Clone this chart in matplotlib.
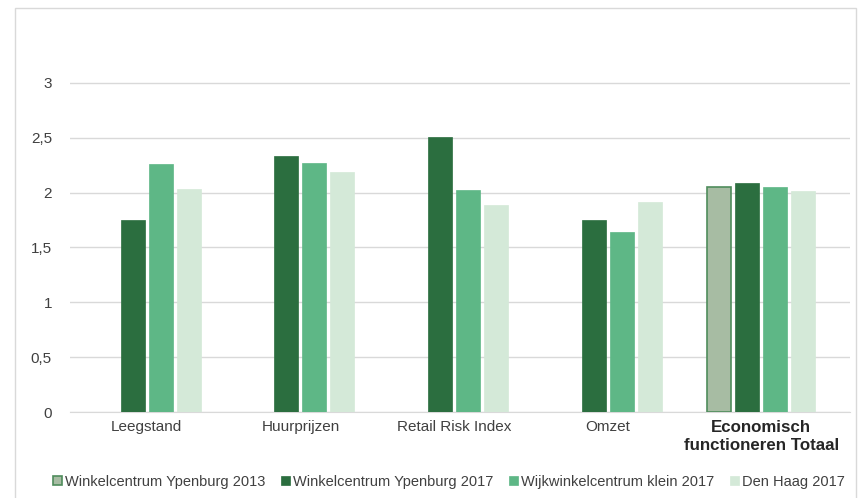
import numpy as np
import matplotlib.pyplot as plt
from matplotlib.patches import Rectangle

plt.rcParams['font.family'] = ['Liberation Sans', 'DejaVu Sans']

categories = ['Leegstand', 'Huurprijzen', 'Retail Risk Index', 'Omzet', 'Economisch\nfunctioneren Totaal']
series = ['Winkelcentrum Ypenburg 2013', 'Winkelcentrum Ypenburg 2017',
          'Wijkwinkelcentrum klein 2017', 'Den Haag 2017']
ypenburg_2013 = [np.nan, np.nan, np.nan, np.nan, 2.05]
ypenburg_2017 = [1.75, 2.33, 2.51, 1.75, 2.09]
klein_2017 = [2.26, 2.27, 2.02, 1.64, 2.05]
den_haag_2017 = [2.03, 2.19, 1.89, 1.91, 2.01]

values = [ypenburg_2013, ypenburg_2017, klein_2017, den_haag_2017]
fills = ['#a7bca3', '#2b6e3f', '#5eb786', '#d4e9d8']
edges = ['#4f8c5c', '#2b6e3f', '#5eb786', '#d4e9d8']

fig = plt.figure(figsize=(8.68, 4.98), dpi=100)
ax = fig.add_axes([70 / 868, 1 - 412 / 498, 780 / 868, 384 / 498])

# outer frame
fig.patches.append(Rectangle((15 / 868, -0.01), 841 / 868, 1 - 8 / 498 + 0.01,
                             transform=fig.transFigure, fill=False,
                             edgecolor='#d9d9d9', linewidth=1))

x = np.arange(len(categories))
unit = 153.5  # px per category
slot = 28 / unit
w = 24 / unit
for i, (vals, fc, ec, name) in enumerate(zip(values, fills, edges, series)):
    ax.bar(x + (i - 1.5) * slot, vals, w, color=fc, edgecolor=ec,
           linewidth=1.2 if i == 0 else 0.5, label=name, zorder=3)

ax.set_xlim(-0.5, len(categories) - 0.5 + 12 / unit)
ax.set_ylim(0, 3.5)
ax.set_yticks([0, 0.5, 1, 1.5, 2, 2.5, 3])
ax.set_yticklabels(['0', '0,5', '1', '1,5', '2', '2,5', '3'])
ax.yaxis.grid(True, color='#d9d9d9', linewidth=1, zorder=0)
ax.set_xticks(x)
ax.set_xticklabels(categories)
ax.tick_params(axis='both', length=0, colors='#404040', labelsize=11)
ax.tick_params(axis='y', pad=13)
ax.tick_params(axis='x', pad=6)
last = ax.get_xticklabels()[-1]
last.set_fontsize(12.2)
last.set_fontweight('bold')
last.set_color('#262626')
last.set_linespacing(1.2)
for s in ['top', 'right', 'left']:
    ax.spines[s].set_visible(False)
ax.spines['bottom'].set_color('#d9d9d9')

fig.legend(loc='center', bbox_to_anchor=(449 / 868, 1 - 482 / 498), ncol=4,
           frameon=False, fontsize=10.5, handlelength=0.6, handleheight=0.6,
           handletextpad=0.2, columnspacing=1.1, labelcolor='#404040')

fig.savefig('out.png', dpi=100)
